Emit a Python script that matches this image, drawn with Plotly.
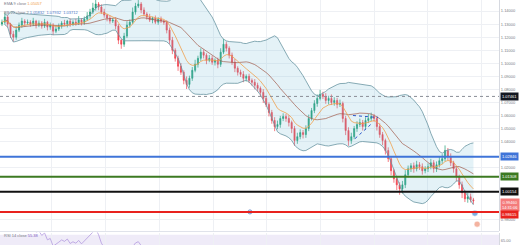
import plotly.graph_objects as go
import pandas as pd

# ---------------- data ----------------
close = [
    1.1315, 1.1354, 1.1300, 1.1223, 1.1200, 1.1254, 1.1292, 1.1323, 1.1308, 1.1315,
    1.1300, 1.1323, 1.1292, 1.1308, 1.1285, 1.1315, 1.1277, 1.1292, 1.1246, 1.1262,
    1.1285, 1.1308, 1.1300, 1.1323, 1.1300, 1.1315, 1.1308, 1.1331, 1.1315, 1.1338,
    1.1362, 1.1392, 1.1423, 1.1454, 1.1431, 1.1392, 1.1369, 1.1346, 1.1323, 1.1331,
    1.1285, 1.1177, 1.1146, 1.1208, 1.1292, 1.1315, 1.1392, 1.1438, 1.1454, 1.1408,
    1.1377, 1.1354, 1.1331, 1.1346, 1.1315, 1.1338, 1.1323, 1.1315, 1.1254, 1.1177,
    1.1100, 1.1038, 1.0977, 1.0931, 1.0869, 1.0838, 1.0885, 1.0946, 1.0992, 1.1038,
    1.1085, 1.1062, 1.1023, 1.1038, 1.1008, 1.1023, 1.0992, 1.1085, 1.1146, 1.1115,
    1.1062, 1.1008, 1.0962, 1.0931, 1.0915, 1.0885, 1.0900, 1.0869, 1.0854, 1.0831,
    1.0808, 1.0777, 1.0731, 1.0685, 1.0623, 1.0562, 1.0515, 1.0531, 1.0577, 1.0592,
    1.0577, 1.0546, 1.0500, 1.0408, 1.0438, 1.0469, 1.0454, 1.0500, 1.0577, 1.0638,
    1.0692, 1.0731, 1.0762, 1.0746, 1.0715, 1.0731, 1.0700, 1.0715, 1.0685, 1.0692,
    1.0577, 1.0485, 1.0408, 1.0438, 1.0500, 1.0531, 1.0546, 1.0515, 1.0562, 1.0577,
    1.0592, 1.0577, 1.0515, 1.0454, 1.0408, 1.0331, 1.0269, 1.0177, 1.0115, 1.0069,
    1.0038, 1.0069, 1.0146, 1.0192, 1.0215, 1.0192, 1.0223, 1.0208, 1.0177, 1.0192,
    1.0208, 1.0238, 1.0192, 1.0223, 1.0254, 1.0269, 1.0331, 1.0285, 1.0238, 1.0192,
    1.0131, 1.0069, 1.0008, 0.9962, 0.9977, 0.9954, 0.9946,
]
first_open = 1.1300

wick_up_pips = [
    20, 35, 15, 10, 25, 30, 20, 25, 15, 20,
    15, 25, 10, 20, 15, 25, 10, 20, 15, 25,
    20, 15, 25, 10, 20, 15, 25, 30, 15, 20,
    30, 25, 40, 35, 15, 20, 25, 10, 20, 15,
    20, 15, 10, 25, 30, 20, 35, 25, 30, 15,
    20, 15, 25, 10, 20, 15, 20, 10, 15, 20,
    25, 15, 20, 25, 15, 30, 20, 25, 35, 20,
    30, 20, 15, 25, 20, 15, 20, 30, 40, 20,
    15, 20, 25, 15, 20, 25, 15, 20, 15, 25,
    20, 15, 25, 20, 15, 20, 25, 30, 20, 25,
    20, 25, 15, 20, 30, 25, 20, 25, 30, 20,
    25, 30, 35, 20, 25, 20, 30, 25, 20, 30,
    15, 20, 25, 30, 20, 25, 30, 20, 25, 35,
    30, 20, 15, 25, 20, 15, 25, 20, 15, 20,
    20, 30, 35, 25, 20, 25, 30, 20, 25, 20,
    25, 30, 20, 25, 30, 35, 40, 20, 25, 15,
    20, 15, 25, 20, 30, 25, 15,
]
wick_dn_pips = [
    15, 20, 25, 30, 35, 20, 15, 20, 25, 15,
    20, 15, 25, 15, 20, 15, 25, 20, 30, 15,
    15, 20, 15, 25, 20, 15, 20, 15, 25, 20,
    15, 20, 15, 20, 25, 15, 20, 25, 20, 15,
    25, 30, 35, 20, 15, 20, 15, 20, 15, 25,
    15, 20, 15, 25, 15, 20, 15, 20, 25, 30,
    30, 25, 35, 20, 30, 35, 25, 20, 15, 25,
    20, 25, 30, 15, 20, 25, 30, 20, 15, 25,
    25, 20, 30, 25, 20, 30, 25, 20, 25, 30,
    25, 30, 35, 20, 30, 25, 35, 20, 25, 20,
    25, 30, 35, 40, 25, 20, 30, 25, 20, 15,
    20, 25, 15, 20, 25, 30, 20, 25, 30, 20,
    30, 35, 40, 25, 20, 25, 20, 30, 25, 20,
    20, 25, 30, 25, 35, 30, 25, 35, 30, 40,
    45, 35, 25, 20, 25, 30, 20, 25, 30, 20,
    25, 20, 30, 25, 20, 25, 20, 30, 25, 30,
    35, 30, 40, 25, 30, 20, 25,
]

level_prices = [1.02846, 1.01308, 1.00154, 0.98615]
level_colors = ["#3f74d8", "#3c7a22", "#111111", "#e8221e"]
dotted_level = 1.07461

price_ticks = [0.98, 1.02, 1.04, 1.05, 1.06, 1.07, 1.08, 1.09, 1.10,
               1.11, 1.12, 1.13, 1.14]

legend_ema = "1.05057"
legend_bb = "1.05832  1.07932  1.03712"
legend_rsi = "55.38"
countdown = "14:31:06"

wedge_top_x = [123.6, 132.4]
wedge_top_y = [1.0600, 1.0585]
wedge_low_x = [124.3, 130.6]
wedge_low_y = [1.0423, 1.0546]

alert_x = [87.3]
event_x = [166.5, 167.3]
event_y = [0.9852, 0.9768]

# ---------------- derived ----------------
n = len(close)
idx = list(range(n))
opens = [first_open] + close[:-1]
highs = [max(o, c) + u * 0.0001 for o, c, u in zip(opens, close, wick_up_pips)]
lows = [min(o, c) - d * 0.0001 for o, c, d in zip(opens, close, wick_dn_pips)]

s = pd.Series(close)
basis = s.rolling(20, min_periods=2).mean()
sd = s.rolling(20, min_periods=2).std(ddof=0)
upper = basis + 2 * sd
lower = basis - 2 * sd
ema = s.ewm(span=9, adjust=False).mean()
delta = s.diff()
gain = delta.clip(lower=0)
loss = -delta.clip(upper=0)
ag = gain.ewm(alpha=1 / 14, adjust=False).mean()
al = loss.ewm(alpha=1 / 14, adjust=False).mean()
rsi = 100 - 100 / (1 + ag / al)

# ---------------- figure ----------------
W, H = 520, 245
band_col = "#6a96a2"
fig = go.Figure()
fig.add_trace(go.Scatter(x=idx, y=upper, mode="lines",
                         line=dict(color=band_col, width=0.8), hoverinfo="skip"))
fig.add_trace(go.Scatter(x=idx, y=lower, mode="lines", fill="tonexty",
                         fillcolor="rgba(120,190,215,0.20)",
                         line=dict(color=band_col, width=0.8), hoverinfo="skip"))
fig.add_trace(go.Scatter(x=idx, y=basis, mode="lines",
                         line=dict(color="#a05a4a", width=0.7), hoverinfo="skip"))
fig.add_trace(go.Scatter(x=idx, y=ema, mode="lines",
                         line=dict(color="#f0a04b", width=0.8), hoverinfo="skip"))
fig.add_trace(go.Candlestick(
    x=idx, open=opens, high=highs, low=lows, close=close,
    increasing=dict(line=dict(color="#1f9e77", width=0.7), fillcolor="#1f9e77"),
    decreasing=dict(line=dict(color="#f0434f", width=0.7), fillcolor="#f0434f"),
    whiskerwidth=0))
fig.add_trace(go.Scatter(x=wedge_top_x, y=wedge_top_y, mode="lines",
                         line=dict(color="#2c57c9", width=1, dash="dot")))
fig.add_trace(go.Scatter(x=wedge_low_x, y=wedge_low_y, mode="lines",
                         line=dict(color="#2c57c9", width=1, dash="dot")))
fig.add_trace(go.Scatter(x=alert_x, y=[level_prices[3]], mode="markers",
                         marker=dict(color="white", size=4,
                                     line=dict(color="#6a8fd0", width=1))))
fig.add_trace(go.Scatter(x=event_x, y=event_y, mode="markers",
                         marker=dict(color=["#7eaee2", "#f4b3a0"], size=6,
                                     symbol="circle",
                                     line=dict(color="white", width=0.5))))
# RSI
fig.add_trace(go.Scatter(x=idx, y=rsi, mode="lines", xaxis="x2", yaxis="y2",
                         line=dict(color="#b49ae0", width=0.8), hoverinfo="skip"))

y_top = 1.14 + 11 / 1300
y_bot = 1.14 - 219 / 1300
main_bottom = 14 / H

shapes = []
for p, c in zip(level_prices, level_colors):
    shapes.append(dict(type="line", xref="paper", x0=0, x1=1, yref="y",
                       y0=p, y1=p, line=dict(color=c, width=2)))
shapes.append(dict(type="line", xref="paper", x0=0, x1=1, yref="y",
                   y0=dotted_level, y1=dotted_level,
                   line=dict(color="#8a8d96", width=1, dash="dot")))
shapes.append(dict(type="rect", xref="paper", x0=0, x1=1, yref="y2",
                   y0=30, y1=70, fillcolor="rgba(126,87,194,0.12)",
                   line=dict(width=0), layer="below"))
shapes.append(dict(type="line", xref="paper", x0=0, x1=1, yref="paper",
                   y0=(H - 231.5) / H, y1=(H - 231.5) / H,
                   line=dict(color="#e0e3eb", width=1)))

fnt = "Liberation Sans, Arial, sans-serif"
ann = []
ann.append(dict(xref="paper", yref="paper", x=0.004, y=(H - 3) / H,
                xanchor="left", yanchor="middle", showarrow=False,
                text="EMA 9 close <span style='color:#f0a04b'>" + legend_ema + "</span>",
                font=dict(size=4, color="#787b86", family=fnt)))
ann.append(dict(xref="paper", yref="paper", x=0.004, y=(H - 12) / H,
                xanchor="left", yanchor="middle", showarrow=False,
                text="BB 20 close 2 <span style='color:#4a78c8'>" + legend_bb + "</span>",
                font=dict(size=4, color="#787b86", family=fnt)))
ann.append(dict(xref="paper", yref="paper", x=0.004, y=(H - 235) / H,
                xanchor="left", yanchor="middle", showarrow=False,
                text="RSI 14 close <span style='color:#7e57c2'>" + legend_rsi + "</span>",
                font=dict(size=4, color="#787b86", family=fnt)))


def price_label(y, text, bg, yshift=0):
    return dict(xref="paper", yref="y", x=1, y=y, xanchor="left", yanchor="middle",
                xshift=1, yshift=yshift, showarrow=False, text=text, bgcolor=bg,
                borderpad=1, font=dict(size=4, color="white", family=fnt))


for p, c in zip(level_prices[:3], level_colors[:3]):
    ann.append(price_label(p, f"{p:.5f}", c))
ann.append(price_label(close[-1], f"{close[-1]:.5f}<br>{countdown}", "#f47b7b", yshift=-4))
ann.append(price_label(level_prices[3], f"{level_prices[3]:.5f}", level_colors[3], yshift=-3))
ann.append(price_label(dotted_level, f"{dotted_level:.5f}", "#131722"))

fig.update_layout(
    width=W, height=H, margin=dict(l=0, r=21, t=0, b=0),
    paper_bgcolor="white", plot_bgcolor="white", showlegend=False,
    font=dict(family=fnt), boxgap=0.45,
    shapes=shapes, annotations=ann,
    xaxis=dict(range=[-0.7, 175], showticklabels=False, showgrid=True,
               gridcolor="#eef0f4", gridwidth=1, tick0=17.6, dtick=18.9,
               zeroline=False, rangeslider=dict(visible=False), anchor="y"),
    xaxis2=dict(matches="x", range=[-0.7, 175], showticklabels=False, showgrid=True,
                gridcolor="#eef0f4", tick0=17.6, dtick=18.9, zeroline=False,
                anchor="y2"),
    yaxis=dict(domain=[main_bottom, 1], range=[y_bot, y_top], side="right",
               tickvals=price_ticks, ticktext=[f"{t:.5f}" for t in price_ticks],
               tickfont=dict(size=4, color="#787b86"), showgrid=True,
               gridcolor="#eef0f4", zeroline=False, showline=True,
               linecolor="#d6d9e0", ticks=""),
    yaxis2=dict(domain=[0, 12.5 / H], range=[61, 72], side="right",
                tickvals=[65], ticktext=["65.00"],
                tickfont=dict(size=4, color="#787b86"), showgrid=False,
                zeroline=False, showline=True, linecolor="#d6d9e0", ticks=""),
)

fig.write_html("out.html")
